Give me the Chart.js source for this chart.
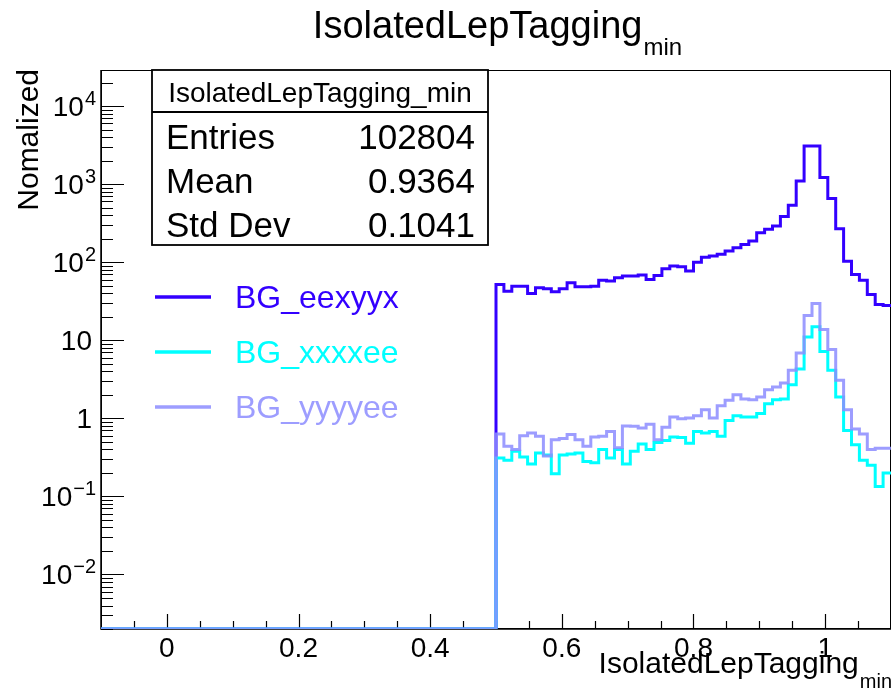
<!DOCTYPE html>
<html><head><meta charset="utf-8">
<script src="https://cdn.jsdelivr.net/npm/chart.js@4.4.0/dist/chart.umd.min.js"></script>
<style>html,body{margin:0;padding:0;background:#fff;overflow:hidden}canvas{display:block}</style>
</head><body>
<canvas id="c" width="892" height="693"></canvas>
<script>
// ---- data ----
const xRange = [-0.1, 1.1];
const binStart = 0.5;
const binWidth = 0.012;
const yRange = [0.002, 29000];
const seriesNames = ['BG_eexyyx', 'BG_xxxxee', 'BG_yyyyee'];
const eexyyx = [51.9, 42.6, 49.3, 49.3, 39.7, 47.0, 45.7, 41.8, 45.7, 54.6,
                48.4, 48.4, 49.3, 58.9, 57.3, 63.2, 66.4, 66.4, 68.4, 60.1,
                67.7, 82.5, 89.1, 87.5, 76.9, 100, 116, 120, 126, 139,
                153, 169, 187, 239, 264, 291, 384, 536, 1099, 3090,
                3090, 1213, 653, 269, 103, 69.7, 58.9, 38.6, 28.7, 27.9];
const xxxxee = [0.31, 0.29, 0.38, 0.32, 0.26, 0.36, 0.34, 0.195, 0.34, 0.35,
                0.36, 0.28, 0.27, 0.40, 0.31, 0.40, 0.26, 0.38, 0.47, 0.40,
                0.49, 0.52, 0.575, 0.57, 0.48, 0.68, 0.65, 0.68, 0.59, 0.94,
                1.08, 1.04, 1.04, 1.15, 1.54, 1.73, 1.77, 2.70, 4.29, 11.0,
                14.9, 7.2, 4.12, 1.88, 0.70, 0.46, 0.29, 0.25, 0.134, 0.20];
const yyyyee = [0.63, 0.44, 0.40, 0.60, 0.65, 0.59, 0.33, 0.53, 0.55, 0.62,
                0.53, 0.44, 0.575, 0.59, 0.68, 0.42, 0.80, 0.79, 0.75, 0.84,
                0.53, 0.77, 1.04, 0.99, 1.01, 1.08, 1.29, 1.01, 1.45, 1.70,
                2.01, 1.77, 1.73, 1.88, 2.33, 2.52, 2.84, 4.12, 6.89, 20.8,
                29.6, 13.7, 7.6, 3.07, 1.29, 0.73, 0.63, 0.40, 0.415, 0.415];
const xTickValues = [0, 0.2, 0.4, 0.6, 0.8, 1];
const xTickLabels = ['0', '0.2', '0.4', '0.6', '0.8', '1'];
const yTickValues = [0.01, 0.1, 1, 10, 100, 1000, 10000];
const yTickBase = ['10', '10', '1', '10', '10', '10', '10'];
const yTickExp = ['\u22122', '\u22121', '', '', '2', '3', '4'];
const titleMain = 'IsolatedLepTagging';
const titleSub = 'min';
const yTitle = 'Nomalized';
const statsTitle = 'IsolatedLepTagging_min';
const statsLabels = ['Entries', 'Mean', 'Std Dev'];
const statsValues = ['102804', '0.9364', '0.1041'];

// ---- styles ----
const FONT = '"Liberation Sans", Arial, Helvetica, sans-serif';
const colors = ['rgb(51,0,255)', 'rgb(0,255,255)', 'rgba(140,140,255,0.85)'];

function histPoints(vals) {
  const pts = [{x: xRange[0], y: yRange[0]}];   // empty bins drawn at the axis floor
  vals.forEach((v, i) => pts.push({x: binStart + i * binWidth, y: v}));
  pts.push({x: xRange[1], y: vals[vals.length - 1]});
  return pts;
}
const seriesData = [eexyyx, xxxxee, yyyyee];

function drawSubText(ctx, main, sub, mainSize, subSize, x, baseline, subDrop, align) {
  ctx.font = mainSize + 'px ' + FONT;
  const w1 = ctx.measureText(main).width;
  ctx.font = subSize + 'px ' + FONT;
  const w2 = ctx.measureText(sub).width;
  let x0 = x;
  if (align === 'center') x0 = x - (w1 + w2) / 2;
  else if (align === 'right') x0 = x - (w1 + w2);
  ctx.textAlign = 'left';
  ctx.textBaseline = 'alphabetic';
  ctx.font = mainSize + 'px ' + FONT;
  ctx.fillText(main, x0, baseline);
  ctx.font = subSize + 'px ' + FONT;
  ctx.fillText(sub, x0 + w1 + 1, baseline + subDrop);
}

const framePlugin = {
  id: 'rootFrame',
  beforeDatasetsDraw(chart) {
    const {ctx, chartArea: a, scales: {x, y}} = chart;
    ctx.save();
    ctx.strokeStyle = '#000';
    ctx.lineWidth = 1;
    ctx.strokeRect(a.left + 0.5, a.top + 0.5, a.right - a.left - 1, a.bottom - a.top - 1);
    ctx.lineWidth = 1.5;
    ctx.beginPath();
    ctx.moveTo(a.left, a.top); ctx.lineTo(a.left, a.bottom); ctx.lineTo(a.right, a.bottom);
    ctx.stroke();
    // x ticks
    ctx.lineWidth = 1.2;
    ctx.beginPath();
    for (let i = -2; i <= 22; i++) {
      const v = i * 0.05;
      const px = Math.round(x.getPixelForValue(v)) + 0.5;
      if (px < a.left + 1 || px > a.right - 1) continue;
      const len = (i % 4 === 0) ? 15 : 8;
      ctx.moveTo(px, a.bottom); ctx.lineTo(px, a.bottom - len);
    }
    // y ticks
    for (let n = -3; n <= 4; n++) {
      for (let k = 1; k <= 9; k++) {
        const v = k * Math.pow(10, n);
        if (v < yRange[0] || v > yRange[1]) continue;
        const py = Math.round(y.getPixelForValue(v)) + 0.5;
        const len = (k === 1) ? 23 : 12;
        ctx.moveTo(a.left, py); ctx.lineTo(a.left + len, py);
      }
    }
    ctx.stroke();
    // tick labels
    ctx.fillStyle = '#000';
    ctx.textBaseline = 'alphabetic';
    ctx.font = '28px ' + FONT;
    ctx.textAlign = 'center';
    xTickValues.forEach((v, i) => {
      ctx.fillText(xTickLabels[i], x.getPixelForValue(v), a.bottom + 28);
    });
    yTickValues.forEach((v, i) => {
      const py = y.getPixelForValue(v);
      ctx.textAlign = 'left';
      ctx.font = '28px ' + FONT;
      const wb = ctx.measureText(yTickBase[i]).width;
      if (!yTickExp[i]) {
        ctx.fillText(yTickBase[i], a.left - 9 - wb, py + 10);
      } else {
        ctx.font = '20px ' + FONT;
        const we = ctx.measureText(yTickExp[i]).width;
        const x0 = a.left - 6 - we - wb;
        ctx.font = '28px ' + FONT;
        ctx.fillText(yTickBase[i], x0, py + 10);
        ctx.font = '20px ' + FONT;
        ctx.fillText(yTickExp[i], x0 + wb + 1, py - 1);
      }
    });
    ctx.restore();
  },
  afterDraw(chart) {
    const {ctx, chartArea: a} = chart;
    ctx.save();
    ctx.fillStyle = '#000';
    // title
    drawSubText(ctx, titleMain, titleSub, 38, 24, (a.left + a.right) / 2 + 1, 38, 17, 'center');
    // x-axis title
    drawSubText(ctx, titleMain, titleSub, 30, 20, a.right, 673, 15, 'right');
    // y-axis title
    ctx.save();
    ctx.translate(38, a.top - 1);
    ctx.rotate(-Math.PI / 2);
    ctx.font = '30px ' + FONT;
    ctx.textAlign = 'right';
    ctx.textBaseline = 'alphabetic';
    ctx.fillText(yTitle, 0, 0);
    ctx.restore();
    // stats box
    const bx = 152, by = a.top, bw = 336, bh = 175, sep = 42;
    ctx.fillStyle = '#fff';
    ctx.fillRect(bx, by, bw, bh);
    ctx.strokeStyle = '#000';
    ctx.lineWidth = 1.8;
    ctx.strokeRect(bx, by, bw, bh);
    ctx.beginPath(); ctx.moveTo(bx, by + sep); ctx.lineTo(bx + bw, by + sep); ctx.stroke();
    ctx.fillStyle = '#000';
    ctx.font = '28px ' + FONT;
    ctx.textAlign = 'center';
    ctx.textBaseline = 'alphabetic';
    ctx.fillText(statsTitle, bx + bw / 2, by + 32);
    ctx.font = '35px ' + FONT;
    statsLabels.forEach((lab, i) => {
      const base = by + 79 + i * 44;
      ctx.textAlign = 'left';
      ctx.fillText(lab, bx + 14, base);
      ctx.textAlign = 'right';
      ctx.fillText(statsValues[i], bx + bw - 13, base);
    });
    // legend
    ctx.font = '32px ' + FONT;
    ctx.textAlign = 'left';
    seriesNames.forEach((name, i) => {
      const ly = 297 + i * 55;
      ctx.strokeStyle = colors[i];
      ctx.lineWidth = 3.5;
      ctx.beginPath(); ctx.moveTo(155, ly); ctx.lineTo(211, ly); ctx.stroke();
      ctx.fillStyle = colors[i];
      ctx.fillText(name, 235, ly + 11);
    });
    ctx.restore();
  }
};

new Chart(document.getElementById('c'), {
  type: 'line',
  data: {
    datasets: seriesNames.map((name, i) => ({
      label: name,
      data: histPoints(seriesData[i]),
      borderColor: colors[i],
      backgroundColor: colors[i],
      borderWidth: 3,
      pointRadius: 0,
      fill: false,
      stepped: 'before',
      order: 2 - i
    }))
  },
  options: {
    responsive: false,
    animation: false,
    devicePixelRatio: 1,
    layout: {padding: {left: 0, right: 1, top: 70, bottom: 0}},
    plugins: {legend: {display: false}, title: {display: false}, tooltip: {enabled: false}},
    scales: {
      x: {
        type: 'linear', min: xRange[0], max: xRange[1],
        grid: {display: false}, border: {display: false},
        ticks: {display: false},
        afterBuildTicks: s => { s.ticks = xTickValues.map(v => ({value: v})); },
        afterFit: s => { s.height = 64; }
      },
      y: {
        type: 'logarithmic', min: yRange[0], max: yRange[1],
        grid: {display: false}, border: {display: false},
        ticks: {display: false},
        afterBuildTicks: s => { s.ticks = yTickValues.map(v => ({value: v})); },
        afterFit: s => { s.width = 101; }
      }
    }
  },
  plugins: [framePlugin]
});
</script>
</body></html>
